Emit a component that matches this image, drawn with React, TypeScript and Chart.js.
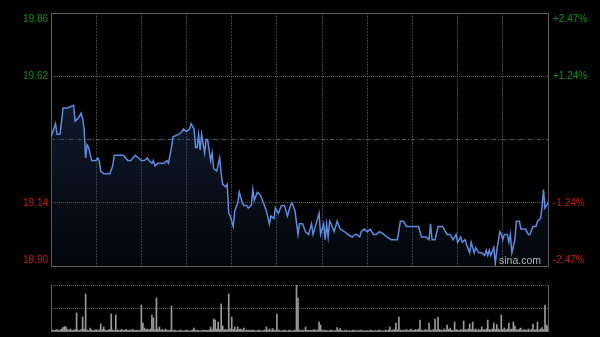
import React, { useEffect, useRef } from 'react';
import { Chart, registerables } from 'chart.js';

Chart.register(...registerables);

// ---- data ----
const PREV_CLOSE = 19.38;
const PRICE_MIN = 18.9;
const PRICE_MAX = 19.86;
const SESSION_MINUTES = 330;
const priceTicks = [18.9, 19.14, 19.38, 19.62, 19.86];
const pctLabels = ['-2.47%', '-1.24%', '', '+1.24%', '+2.47%'];

// minute of session (0 = 09:30) at which each price vertex was read
const priceMinutes = [
  0, 3, 4, 6, 8, 11, 15, 16, 18, 20,
  21, 22, 23, 24, 25, 27, 30, 31, 32, 33,
  35, 39, 41, 42, 48, 51, 53, 56, 58, 60,
  62, 64, 65, 67, 68, 69, 71, 75, 77, 78,
  80, 81, 85, 87, 88, 90, 92, 93, 95, 96,
  97, 98, 99, 100, 102, 103, 104, 106, 107, 108,
  110, 112, 113, 114, 116, 117, 118, 119, 121, 122,
  124, 125, 127, 128, 130, 131, 133, 134, 135, 137,
  139, 141, 143, 145, 146, 148, 149, 151, 153, 155,
  157, 159, 160, 162, 164, 165, 167, 169, 171, 173,
  174, 176, 178, 179, 181, 182, 183, 184, 185, 186,
  188, 190, 192, 195, 197, 200, 202, 203, 205, 206,
  208, 210, 212, 214, 216, 218, 221, 223, 226, 230,
  232, 234, 236, 244, 246, 249, 251, 252, 253, 255,
  257, 260, 263, 265, 267, 269, 270, 272, 273, 275,
  276, 278, 279, 281, 282, 284, 286, 288, 289, 290,
  291, 292, 294, 295, 296, 298, 299, 300, 301, 303,
  304, 305, 306, 308, 309, 311, 312, 315, 317, 318,
  320, 322, 323, 325, 326, 327, 328, 330,
];

const prices = [
  19.39, 19.44, 19.40, 19.40, 19.50, 19.50, 19.51, 19.45, 19.46, 19.48,
  19.46, 19.42, 19.31, 19.36, 19.35, 19.30, 19.30, 19.31, 19.30, 19.26,
  19.25, 19.25, 19.28, 19.32, 19.32, 19.30, 19.30, 19.32, 19.31, 19.30,
  19.30, 19.31, 19.30, 19.29, 19.30, 19.28, 19.29, 19.29, 19.30, 19.29,
  19.35, 19.39, 19.40, 19.41, 19.42, 19.41, 19.42, 19.44, 19.42, 19.35,
  19.35, 19.40, 19.34, 19.40, 19.33, 19.38, 19.38, 19.30, 19.33, 19.27,
  19.26, 19.31, 19.25, 19.21, 19.20, 19.21, 19.10, 19.09, 19.05, 19.11,
  19.14, 19.18, 19.14, 19.13, 19.13, 19.12, 19.13, 19.19, 19.15, 19.18,
  19.17, 19.14, 19.11, 19.06, 19.09, 19.08, 19.12, 19.10, 19.13, 19.13,
  19.09, 19.13, 19.14, 19.11, 19.02, 19.06, 19.06, 19.03, 19.02, 19.06,
  19.02, 19.06, 19.10, 19.02, 19.06, 19.00, 19.06, 19.01, 19.07, 19.06,
  19.03, 19.07, 19.04, 19.03, 19.02, 19.01, 19.02, 19.02, 19.01, 19.03,
  19.04, 19.03, 19.04, 19.02, 19.02, 19.03, 19.02, 19.01, 19.00, 19.00,
  19.07, 19.07, 19.05, 19.05, 19.01, 19.01, 19.00, 19.06, 19.00, 19.00,
  19.05, 19.05, 19.02, 19.02, 19.00, 19.02, 18.99, 19.01, 18.99, 19.00,
  18.98, 18.95, 18.99, 18.95, 18.97, 18.95, 18.95, 18.94, 18.96, 18.94,
  18.96, 18.94, 18.97, 18.91, 18.96, 19.03, 19.02, 19.00, 19.02, 19.02,
  18.99, 19.02, 18.95, 19.00, 19.07, 19.07, 19.04, 19.04, 19.02, 19.02,
  19.05, 19.05, 19.07, 19.08, 19.12, 19.19, 19.12, 19.14,
];

const VOL_MAX = 470;
// one value per minute, 0..330
const volumes = [
  400, 20, 15, 20, 25, 15, 20, 30, 45, 55, 50, 25, 20, 30, 15, 20, 25, 190, 20, 15, 25, 150, 30, 380, 20, 15, 40, 20, 15, 20,
  25, 15, 20, 80, 25, 50, 20, 15, 20, 25, 180, 20, 15, 170, 20, 15, 20, 25, 15, 20, 25, 15, 20, 15, 25, 20, 15, 20, 15, 20,
  270, 90, 40, 25, 30, 20, 30, 170, 140, 25, 340, 30, 50, 20, 25, 15, 30, 20, 15, 20, 260, 15, 20, 15, 10, 15, 20, 15, 10, 15,
  20, 15, 10, 15, 20, 40, 15, 20, 15, 10, 15, 20, 15, 20, 15, 20, 50, 25, 130, 120, 30, 100, 25, 280, 60, 20, 25, 20, 380, 30,
  150, 25, 50, 20, 50, 25, 30, 20, 40, 15, 20, 15, 20, 15, 20, 15, 10, 15, 20, 15, 10, 15, 20, 50, 20, 30, 15, 35, 20, 15,
  180, 20, 15, 10, 15, 20, 15, 10, 20, 15, 10, 15, 20, 470, 340, 20, 15, 20, 15, 50, 20, 15, 20, 15, 20, 25, 15, 20, 100, 70,
  20, 15, 20, 15, 10, 15, 20, 15, 10, 15, 45, 20, 35, 15, 10, 15, 20, 10, 15, 10, 15, 20, 10, 15, 10, 15, 20, 10, 15, 10,
  15, 10, 20, 15, 10, 15, 10, 15, 20, 10, 15, 10, 20, 15, 20, 50, 15, 20, 25, 90, 20, 150, 20, 15, 20, 15, 25, 15, 20, 30,
  15, 20, 25, 20, 30, 120, 20, 15, 20, 25, 15, 90, 20, 15, 25, 130, 20, 150, 25, 20, 15, 30, 20, 70, 25, 40, 20, 15, 100, 25,
  20, 15, 25, 20, 110, 25, 20, 30, 80, 25, 100, 20, 30, 15, 25, 20, 50, 25, 20, 30, 120, 25, 20, 30, 90, 25, 75, 30, 20, 170,
  25, 40, 20, 30, 90, 25, 30, 100, 60, 25, 20, 30, 40, 15, 25, 20, 20, 30, 15, 25, 80, 20, 25, 100, 20, 30, 45, 25, 270, 70,
  60,
];

const GREEN = '#0c930c';
const RED = '#cc1414';
const FONT = '10px "Liberation Sans", Arial, Helvetica, sans-serif';

const pricePlugin = {
  id: 'priceDecor',
  beforeDatasetsDraw(chart: any) {
    const { ctx, chartArea } = chart;
    const { left, right, top, bottom } = chartArea;
    ctx.save();
    ctx.strokeStyle = '#5e5e5e';
    ctx.lineWidth = 1;
    ctx.setLineDash([]);
    ctx.strokeRect(Math.round(left) + 0.5, Math.round(top) + 0.5, Math.round(right - left), Math.round(bottom - top));
    ctx.restore();
  },
  afterDraw(chart: any) {
    const { ctx, chartArea } = chart;
    const { left, right, top, bottom } = chartArea;
    const yScale = chart.scales.y;
    ctx.save();
    ctx.font = FONT;
    ctx.textBaseline = 'middle';
    priceTicks.forEach((v, i) => {
      if (Math.abs(v - PREV_CLOSE) < 1e-6) return;
      let y = yScale.getPixelForValue(v);
      y = Math.min(Math.max(y, top + 6), bottom - 6);
      ctx.fillStyle = v > PREV_CLOSE ? GREEN : RED;
      ctx.textAlign = 'right';
      ctx.fillText(v.toFixed(2), left - 3, y);
      ctx.textAlign = 'left';
      ctx.fillText(pctLabels[i], right + 5, y);
    });
    ctx.fillStyle = '#b4b4b4';
    ctx.textAlign = 'left';
    ctx.textBaseline = 'alphabetic';
    ctx.font = '10.5px "Liberation Sans", Arial, Helvetica, sans-serif';
    ctx.fillText('sina.com', right - 49, bottom - 2);
    ctx.restore();
  },
};

const volPlugin = {
  id: 'volDecor',
  afterDraw(chart: any) {
    const { ctx, chartArea } = chart;
    const { left, right, top, bottom } = chartArea;
    ctx.save();
    ctx.strokeStyle = '#5e5e5e';
    ctx.lineWidth = 1;
    ctx.beginPath();
    ctx.moveTo(Math.round(left) + 0.5, Math.round(top));
    ctx.lineTo(Math.round(left) + 0.5, Math.round(bottom));
    ctx.moveTo(Math.round(right) + 0.5, Math.round(top));
    ctx.lineTo(Math.round(right) + 0.5, Math.round(bottom));
    ctx.stroke();
    ctx.restore();
  },
};

export default function App() {
  const priceRef = useRef<HTMLCanvasElement>(null);
  const volRef = useRef<HTMLCanvasElement>(null);

  useEffect(() => {
    document.body.style.margin = '0';
    document.body.style.background = '#000';

    const priceChart = new Chart(priceRef.current as HTMLCanvasElement, {
      type: 'line',
      data: {
        datasets: [
          {
            data: priceMinutes.map((m, i) => ({ x: m, y: prices[i] })),
            borderColor: '#5a8de0',
            borderWidth: 1.5,
            pointRadius: 0,
            tension: 0,
            fill: 'start',
            backgroundColor: (c: any) => {
              const { chart } = c;
              const area = chart.chartArea;
              if (!area) return 'rgba(0,0,0,0)';
              const g = chart.ctx.createLinearGradient(0, area.top, 0, area.bottom);
              g.addColorStop(0, 'rgba(35,60,105,0.6)');
              g.addColorStop(1, 'rgba(35,60,105,0.1)');
              return g;
            },
          } as any,
        ],
      },
      options: {
        animation: false,
        responsive: false,
        devicePixelRatio: 1,
        events: [],
        layout: { padding: { left: 51, right: 52, top: 13, bottom: 9 } },
        plugins: { legend: { display: false }, tooltip: { enabled: false } },
        scales: {
          x: {
            type: 'linear',
            min: 0,
            max: SESSION_MINUTES,
            ticks: { display: false, stepSize: 30 },
            grid: {
              drawTicks: false,
              lineWidth: 1,
              color: (c: any) =>
                c.tick && (c.tick.value === 0 || c.tick.value === SESSION_MINUTES) ? 'rgba(0,0,0,0)' : '#3f3f3f',
            },
            border: { display: false, dash: [2, 1] },
          },
          y: {
            min: PRICE_MIN,
            max: PRICE_MAX,
            afterBuildTicks: (s: any) => {
              s.ticks = priceTicks.map((v) => ({ value: v }));
            },
            ticks: { display: false },
            grid: {
              drawTicks: false,
              lineWidth: 1,
              color: (c: any) =>
                c.tick && (Math.abs(c.tick.value - PRICE_MIN) < 1e-6 || Math.abs(c.tick.value - PRICE_MAX) < 1e-6)
                  ? 'rgba(0,0,0,0)'
                  : '#5a5a5a',
            },
            border: {
              display: false,
              dash: (c: any) => (c.tick && Math.abs(c.tick.value - PREV_CLOSE) < 1e-6 ? [4, 2, 1, 2] : [1, 1]),
            },
          },
        },
      } as any,
      plugins: [pricePlugin],
    });

    const volChart = new Chart(volRef.current as HTMLCanvasElement, {
      type: 'bar',
      data: {
        labels: volumes.map((_, i) => String(i)),
        datasets: [
          {
            data: volumes,
            backgroundColor: '#9a9a9a',
            barThickness: 1,
            borderWidth: 0,
          },
        ],
      },
      options: {
        animation: false,
        responsive: false,
        devicePixelRatio: 1,
        events: [],
        layout: { padding: { left: 51, right: 52, top: 10, bottom: 5 } },
        plugins: { legend: { display: false }, tooltip: { enabled: false } },
        scales: {
          x: {
            type: 'category',
            offset: false,
            display: false,
          },
          y: {
            min: 0,
            max: VOL_MAX,
            afterBuildTicks: (s: any) => {
              s.ticks = [{ value: 0 }, { value: VOL_MAX / 2 }, { value: VOL_MAX }];
            },
            ticks: { display: false },
            grid: {
              drawTicks: false,
              lineWidth: 1,
              color: (c: any) => (c.tick && c.tick.value === 0 ? 'rgba(0,0,0,0)' : '#5a5a5a'),
            },
            border: { display: false, dash: [1, 1] },
          },
        },
      } as any,
      plugins: [volPlugin],
    });

    return () => {
      priceChart.destroy();
      volChart.destroy();
    };
  }, []);

  return (
    <div style={{ position: 'fixed', left: 0, top: 0, width: 600, height: 337, background: '#000' }}>
      <canvas ref={priceRef} width={600} height={275} style={{ position: 'absolute', left: 0, top: 0 }} />
      <canvas ref={volRef} width={600} height={62} style={{ position: 'absolute', left: 0, top: 275 }} />
    </div>
  );
}
